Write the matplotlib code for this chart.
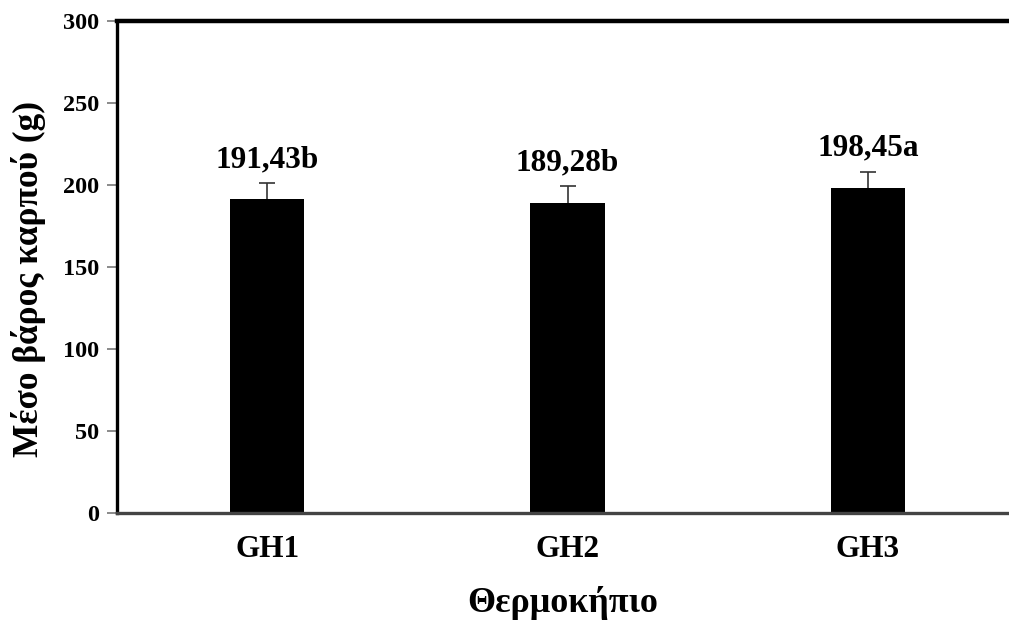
import numpy as np
import matplotlib
matplotlib.use("Agg")
import matplotlib.pyplot as plt

plt.rcParams['font.family'] = ['Liberation Serif', 'DejaVu Serif']
plt.rcParams['font.weight'] = 'bold'

# data
greenhouses = ["GH1", "GH2", "GH3"]
mean_weight = [191.43, 189.28, 198.45]
err_weight = [10.0, 10.0, 9.5]
labels = ["191,43b", "189,28b", "198,45a"]
y_ticks = [0, 50, 100, 150, 200, 250, 300]

fig = plt.figure(figsize=(10.09, 6.23), dpi=100)
ax = fig.add_axes([0.116, 0.177, 0.884, 0.789])

x = np.arange(len(greenhouses))
ax.bar(x, mean_weight, width=0.247, color='black', zorder=2)
# upper error only
_, caps, _ = ax.errorbar(x, mean_weight, yerr=[np.zeros(len(x)), err_weight], fmt='none',
                         ecolor='#333333', elinewidth=1.2, capsize=6, capthick=1.2, zorder=1)
caps[0].set_visible(False)

for xi, v, lab in zip(x, mean_weight, labels):
    ax.text(xi, v + 19.5, lab, ha='center', va='baseline', fontsize=22.5, fontweight='bold')

ax.set_xlim(-0.5, 2.47)
ax.set_ylim(0, 300)
ax.set_yticks(y_ticks)
ax.set_xticks(x)
ax.set_xticklabels(greenhouses, fontsize=22.5, fontweight='bold')
ax.tick_params(axis='y', labelsize=17.5, length=7, width=1.2, color='#777777', direction='out', pad=6)
ax.tick_params(axis='x', length=0, pad=16)
for t in ax.get_yticklabels():
    t.set_fontweight('bold')

ax.spines['top'].set_linewidth(3.2)
ax.spines['top'].set_color('black')
ax.spines['left'].set_linewidth(2.4)
ax.spines['left'].set_color('black')
ax.spines['bottom'].set_linewidth(2.4)
ax.spines['bottom'].set_color('#444444')
ax.spines['right'].set_visible(False)

ax.set_ylabel("Μέσο βάρος καρπού (g)", fontsize=25.5, fontweight='bold')
ax.yaxis.set_label_coords(-0.08, 0.475)
ax.set_xlabel("Θερμοκήπιο", fontsize=26, fontweight='bold', labelpad=16)

fig.savefig("out.png", dpi=100)
